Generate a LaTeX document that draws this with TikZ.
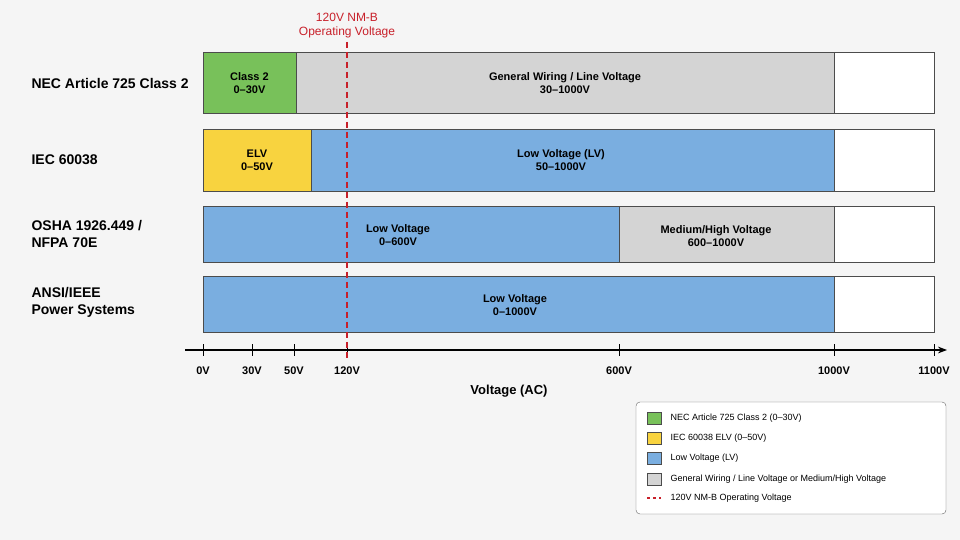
\documentclass[tikz,border=0pt]{standalone}
\usepackage{fontspec}
\setmainfont{Liberation Sans}
\usetikzlibrary{arrows.meta}
\definecolor{necgreen}{HTML}{78C15A}
\definecolor{elvyellow}{HTML}{F8D33F}
\definecolor{lvblue}{HTML}{7AAEE0}
\definecolor{gwgray}{HTML}{D4D4D4}
\definecolor{nmred}{HTML}{C8202A}
\tikzset{
  band/.style={draw=black!70, line width=0.6pt},
  bandtext/.style={font=\fontsize{11}{13}\selectfont\bfseries, align=center},
  rowlabel/.style={font=\fontsize{14}{17}\selectfont\bfseries, anchor=west, align=left},
  ticklabel/.style={font=\fontsize{11}{13}\selectfont\bfseries},
  legtext/.style={font=\fontsize{9}{11}\selectfont, anchor=west},
}
\begin{document}
\begin{tikzpicture}[x=1pt,y=-1pt]
  \useasboundingbox[fill=black!4] (0,0) rectangle (960,540);

  % rows
  \node[rowlabel] (lnec) at (28,83) {NEC Article 725 Class 2};
  \fill[white, band] (203,52) rectangle (934,113);
  \filldraw[necgreen, band] (203,52) rectangle (296,113);
  \filldraw[gwgray, band] (296,52) rectangle (834,113);
  \node[bandtext] (nec1) at (249.5,83) {Class 2\\0--30V};
  \node[bandtext] (nec2) at (565,83) {General Wiring / Line Voltage\\30--1000V};

  \node[rowlabel] (liec) at (28,160) {IEC 60038};
  \fill[white, band] (203,129) rectangle (934,191);
  \filldraw[elvyellow, band] (203,129) rectangle (311,191);
  \filldraw[lvblue, band] (311,129) rectangle (834,191);
  \node[bandtext] (iec1) at (257,160) {ELV\\0--50V};
  \node[bandtext] (iec2) at (561,160) {Low Voltage (LV)\\50--1000V};

  \node[rowlabel] (losha) at (28,234) {OSHA 1926.449 /\\NFPA 70E};
  \fill[white, band] (203,206) rectangle (934,262);
  \filldraw[lvblue, band] (203,206) rectangle (619,262);
  \filldraw[gwgray, band] (619,206) rectangle (834,262);
  \node[bandtext] (osha1) at (398,235) {Low Voltage\\0--600V};
  \node[bandtext] (osha2) at (716,236) {Medium/High Voltage\\600--1000V};

  \node[rowlabel] (lansi) at (28,302) {ANSI/IEEE\\Power Systems};
  \fill[white, band] (203,276) rectangle (934,332);
  \filldraw[lvblue, band] (203,276) rectangle (834,332);
  \draw[band] (203,276) rectangle (934,332);
  \node[bandtext] (ansi1) at (515,305) {Low Voltage\\0--1000V};

  % axis
  \coordinate (ax0) at (185,350);
  \coordinate (ax1) at (947,350);
  \draw[line width=1.6pt, -{Stealth[length=9pt]}] (ax0) -- (ax1);
  \foreach \x/\t in {203/0V, 252/30V, 294/50V, 347/120V, 619/600V, 834/1000V, 934/1100V}{
    \draw[line width=1pt] (\x,344) -- (\x,356);
    \node[ticklabel] at (\x,371) {\t};
  }
  \node[font=\fontsize{13}{15}\selectfont\bfseries] (axlabel) at (509,391) {Voltage (AC)};

  % 120V marker
  \node[font=\fontsize{12}{14}\selectfont, text=nmred, align=center] (nmb) at (347,26) {120V NM-B\\Operating Voltage};
  \draw[nmred, dashed, line width=1.2pt, dash pattern=on 6pt off 4pt] (nmb.south) -- (347,360);

  % legend
  \draw[fill=white, draw=black!60, rounded corners=4pt] (636,402) rectangle (946,514);
  \foreach \y/\c/\t in {418/necgreen/{NEC Article 725 Class 2 (0--30V)},
                        438/elvyellow/{IEC 60038 ELV (0--50V)},
                        458/lvblue/{Low Voltage (LV)},
                        479/gwgray/{General Wiring / Line Voltage or Medium/High Voltage}}{
    \filldraw[fill=\c, draw=black!70] (647,\y-6) rectangle (661,\y+6);
    \node[legtext] at (667,\y) {\t};
  }
  \draw[nmred, dashed, line width=1.2pt] (647,498) -- (661,498);
  \node[legtext] at (667,498) {120V NM-B Operating Voltage};
\end{tikzpicture}
\end{document}
